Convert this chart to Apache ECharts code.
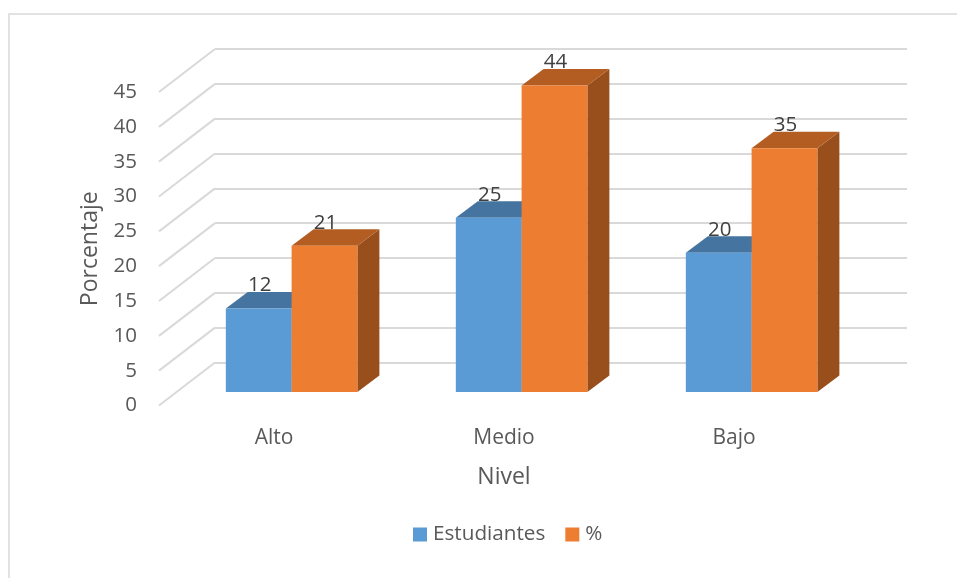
<!DOCTYPE html>
<html>
<head>
<meta charset="utf-8">
<title>Nivel</title>
<style>
  html, body { margin: 0; padding: 0; background: #fff; }
  #chart { width: 957px; height: 578px; }
</style>
</head>
<body>
<div id="chart"></div>
<script src="https://cdn.jsdelivr.net/npm/echarts@6/dist/echarts.min.js"></script>
<script>
const categories = ['Alto', 'Medio', 'Bajo']
const estudiantes = [12, 25, 20]
const porcentaje = [21, 44, 35]
const yTicks = [0, 5, 10, 15, 20, 25, 30, 35, 40, 45]

const FONT = '"Open Sans", sans-serif'
const GRID_LINE = '#d9d9d9'
const TEXT = '#595959'

// bar depth on screen
const DEPTH_X = 22
const DEPTH_Y = 16.5

// one 3d bar: front, top and side faces plus its value on top
const barRenderer = (colors, side) => (params, api) => {
  const center = api.coord([api.value(0), 0])[0]
  const barWidth = api.size([1, 0])[0] * 0.286
  const x0 = side < 0 ? center - barWidth : center
  const x1 = x0 + barWidth
  const y0 = api.coord([api.value(0), 0])[1]
  const y1 = api.coord([api.value(0), api.value(1)])[1]
  const poly = (points, fill) => ({
    type: 'polygon',
    shape: { points },
    style: { fill }
  })
  return {
    type: 'group',
    children: [
      poly([[x1, y0], [x1 + DEPTH_X, y0 - DEPTH_Y], [x1 + DEPTH_X, y1 - DEPTH_Y], [x1, y1]], colors.side),
      poly([[x0, y1], [x0 + DEPTH_X, y1 - DEPTH_Y], [x1 + DEPTH_X, y1 - DEPTH_Y], [x1, y1]], colors.top),
      poly([[x0, y0], [x1, y0], [x1, y1], [x0, y1]], colors.front),
      {
        type: 'text',
        z2: 10,
        style: {
          text: String(api.value(1)),
          x: (x0 + x1) / 2 + 1,
          y: y1 - 23,
          align: 'center',
          verticalAlign: 'middle',
          fill: '#404040',
          font: '20.5px ' + FONT
        }
      }
    ]
  }
}

// diagonal floor/side wall lines from the front plane to the back wall
const sideLine = (params, api) => {
  const y = api.coord([0, api.value(0)])[1]
  const x = params.coordSys.x
  return {
    type: 'line',
    shape: { x1: x, y1: y, x2: x + 56, y2: y - 43 },
    style: { stroke: GRID_LINE, lineWidth: 2 }
  }
}

const chart = echarts.init(document.getElementById('chart'))

chart.setOption({
  animation: false,
  backgroundColor: '#fff',
  graphic: [{
    type: 'rect',
    silent: true,
    z: -10,
    shape: { x: 9, y: 14, width: 1000, height: 620 },
    style: { fill: 'none', stroke: GRID_LINE, lineWidth: 1.5 }
  }],
  legend: {
    data: ['Estudiantes', '%'],
    left: 408,
    top: 519,
    icon: 'rect',
    itemWidth: 14,
    itemHeight: 14,
    itemGap: 20,
    selectedMode: false,
    textStyle: { fontFamily: FONT, fontSize: 20.7, color: TEXT, padding: [0, 0, 0, 1] }
  },
  grid: [
    { left: 159, top: 92, width: 690, height: 313.5 },   // front plane, labels
    { left: 215, top: 49, width: 692, height: 313.5 },   // back wall
    { left: 176.6, top: 78.5, width: 690, height: 313.5 } // bars
  ],
  xAxis: [
    {
      type: 'category',
      gridIndex: 0,
      data: categories,
      name: 'Nivel',
      nameLocation: 'middle',
      nameGap: 60,
      nameTextStyle: { fontFamily: FONT, fontSize: 23, color: TEXT },
      axisLine: { show: false },
      axisTick: { show: false },
      axisLabel: { margin: 22, fontFamily: FONT, fontSize: 21, color: TEXT }
    },
    { type: 'category', gridIndex: 1, data: categories, show: false },
    { type: 'category', gridIndex: 2, data: categories, show: false }
  ],
  yAxis: [
    {
      type: 'value',
      gridIndex: 0,
      min: 0,
      max: 45,
      interval: 5,
      name: 'Porcentaje',
      nameLocation: 'middle',
      nameGap: 57,
      nameTextStyle: { fontFamily: FONT, fontSize: 23, color: TEXT },
      axisLine: { show: false },
      axisTick: { show: false },
      splitLine: { show: false },
      axisLabel: { margin: 22, fontFamily: FONT, fontSize: 20.5, color: TEXT }
    },
    {
      type: 'value',
      gridIndex: 1,
      min: 0,
      max: 45,
      interval: 5,
      axisLine: { show: false },
      axisTick: { show: false },
      axisLabel: { show: false },
      splitLine: { show: true, lineStyle: { color: GRID_LINE, width: 2 } }
    },
    { type: 'value', gridIndex: 2, min: 0, max: 45, show: false, splitLine: { show: false } }
  ],
  series: [
    {
      type: 'custom',
      name: 'lineas',
      xAxisIndex: 0,
      yAxisIndex: 0,
      silent: true,
      clip: false,
      data: yTicks.map(v => [v]),
      encode: { y: 0 },
      renderItem: sideLine
    },
    {
      type: 'custom',
      name: 'Estudiantes',
      xAxisIndex: 2,
      yAxisIndex: 2,
      silent: true,
      clip: false,
      itemStyle: { color: '#5b9bd5' },
      data: estudiantes.map((v, i) => [i, v]),
      encode: { x: 0, y: 1 },
      renderItem: barRenderer({ front: '#5b9bd5', top: '#44749f', side: '#3c6690' }, -1)
    },
    {
      type: 'custom',
      name: '%',
      xAxisIndex: 2,
      yAxisIndex: 2,
      silent: true,
      clip: false,
      itemStyle: { color: '#ed7d31' },
      data: porcentaje.map((v, i) => [i, v]),
      encode: { x: 0, y: 1 },
      renderItem: barRenderer({ front: '#ed7d31', top: '#b35d22', side: '#984f1b' }, 1)
    }
  ]
})
</script>
</body>
</html>
